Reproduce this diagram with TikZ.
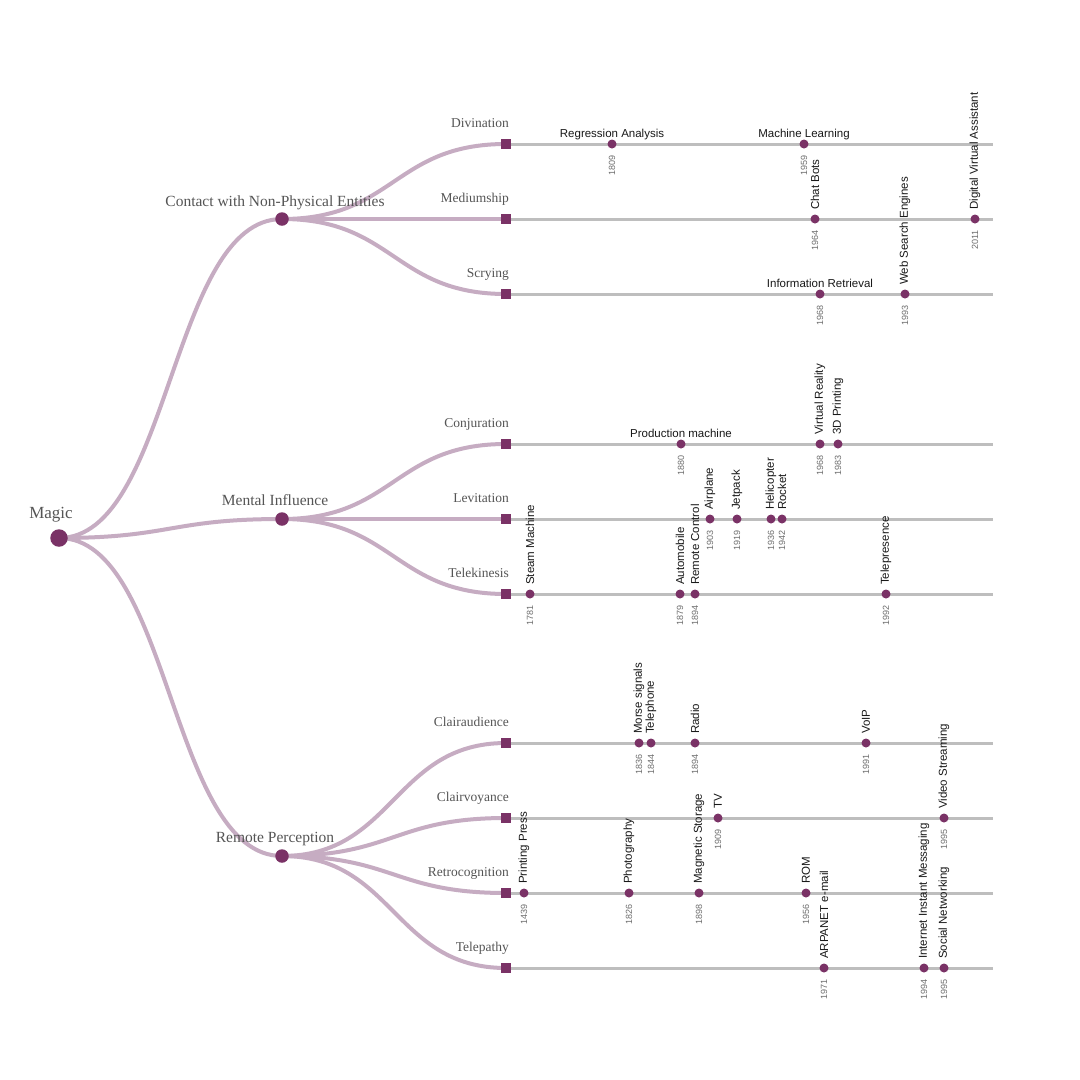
\documentclass[tikz,border=0pt]{standalone}
\usepackage{fontspec}
\setmainfont{Liberation Serif}
\newfontfamily\arialf{Liberation Sans}
\usetikzlibrary{calc}
\pgfdeclarelayer{bg}
\pgfsetlayers{bg,main}
\definecolor{purp}{RGB}{122,50,102}
\definecolor{linkc}{RGB}{198,172,194}
\definecolor{tlc}{RGB}{190,190,190}
\definecolor{treetext}{RGB}{85,85,85}
\definecolor{evtext}{RGB}{25,25,25}
\definecolor{yeartext}{RGB}{110,110,110}
\tikzset{
  rootdot/.style={circle,fill=purp,inner sep=0,minimum size=17.5pt},
  l1dot/.style={circle,fill=purp,inner sep=0,minimum size=13.5pt},
  sq/.style={rectangle,fill=purp,inner sep=0,minimum size=10pt},
  evdot/.style={circle,fill=purp,inner sep=0,minimum size=9pt},
  link/.style={draw=linkc,line width=4pt},
  tline/.style={draw=tlc,line width=3pt},
  hlink/.style={to path={let \p1=(\tikztostart), \p2=(\tikztotarget), \n1={0.5*\x1+0.5*\x2} in .. controls (\n1,\y1) and (\n1,\y2) .. (\tikztotarget)}},
  rootlab/.style={anchor=base,inner sep=0,text=treetext,font=\fontsize{17}{20}\selectfont},
  l1lab/.style={anchor=base,inner sep=0,text=treetext,font=\fontsize{15.5}{18}\selectfont},
  l2lab/.style={anchor=base east,inner sep=0,text=treetext,font=\fontsize{13.5}{16}\selectfont},
  hlab/.style={anchor=base,inner sep=0,text=evtext,font=\arialf\fontsize{11.5}{13}\selectfont},
  vlab/.style={rotate=90,anchor=west,inner sep=0,text=evtext,font=\arialf\fontsize{11.5}{13}\selectfont},
  ylab/.style={rotate=90,anchor=east,inner sep=0,text=yeartext,font=\arialf\fontsize{9}{10}\selectfont},
}
\newcommand\EvV[5]{%
  \node[evdot] (#1) at (#2,#3) {};
  \node[vlab] (#1l) at ([yshift=9pt]#1.center) {#4};
  \node[ylab] (#1y) at ([yshift=-11pt]#1.center) {#5};}
\newcommand\EvH[5]{%
  \node[evdot] (#1) at (#2,#3) {};
  \node[hlab] (#1l) at ([yshift=7pt]#1.center) {#4};
  \node[ylab] (#1y) at ([yshift=-11pt]#1.center) {#5};}
\begin{document}
\begin{tikzpicture}[x=1pt,y=-1pt]
\begin{pgfonlayer}{bg}
\path[use as bounding box,fill=white] (0,0) rectangle (1080,1080);
\end{pgfonlayer}
% tree nodes
\node[rootdot] (magic) at (59,538) {};
\node[rootlab] (magicl) at (51,518) {Magic};
\node[l1dot] (contact) at (282,219) {};
\node[l1lab] (contactl) at (275,206) {Contact with Non-Physical Entities};
\node[l1dot] (mental) at (282,519) {};
\node[l1lab] (mentall) at (275,505) {Mental Influence};
\node[l1dot] (remote) at (282,856) {};
\node[l1lab] (remotel) at (275,842) {Remote Perception};
% level 2
\foreach \nm/\yy/\txt in {div/144/Divination,med/219/Mediumship,scr/294/Scrying,
  con/444/Conjuration,lev/519/Levitation,tel/594/Telekinesis,
  cla/743/Clairaudience,clv/818/Clairvoyance,ret/893/Retrocognition,tpa/968/Telepathy}{
  \node[sq] (\nm) at (506,\yy) {};
  \node[l2lab] (\nm l) at (509,\yy-17) {\txt};
  \coordinate (\nm end) at (993,\yy);
}
\begin{pgfonlayer}{bg}
\foreach \a/\b in {magic/contact,magic/mental,magic/remote,
  contact/div,contact/med,contact/scr,mental/con,mental/lev,mental/tel,
  remote/cla,remote/clv,remote/ret,remote/tpa}{
  \draw[link] (\a.center) to[hlink] (\b.center);
}
\foreach \nm in {div,med,scr,con,lev,tel,cla,clv,ret,tpa}{
  \draw[tline] (\nm.center) -- (\nm end);
}
\end{pgfonlayer}
% events
\EvH{regr}{612}{144}{Regression Analysis}{1809}
\EvH{ml}{804}{144}{Machine Learning}{1959}
\EvV{chat}{815}{219}{Chat Bots}{1964}
\EvV{dva}{975}{219}{Digital Virtual Assistant}{2011}
\EvH{ir}{820}{294}{Information Retrieval}{1968}
\EvV{wse}{905}{294}{Web Search Engines}{1993}
\EvH{prod}{681}{444}{Production machine}{1880}
\EvV{vr}{820}{444}{Virtual Reality}{1968}
\EvV{tdp}{838}{444}{3D Printing}{1983}
\EvV{air}{710}{519}{Airplane}{1903}
\EvV{jet}{737}{519}{Jetpack}{1919}
\EvV{heli}{771}{519}{Helicopter}{1936}
\EvV{rock}{782}{519}{Rocket}{1942}
\EvV{steam}{530}{594}{Steam Machine}{1781}
\EvV{auto}{680}{594}{Automobile}{1879}
\EvV{rc}{695}{594}{Remote Control}{1894}
\EvV{telp}{886}{594}{Telepresence}{1992}
\EvV{morse}{639}{743}{Morse signals}{1836}
\EvV{phone}{651}{743}{Telephone}{1844}
\EvV{radio}{695}{743}{Radio}{1894}
\EvV{voip}{866}{743}{VoIP}{1991}
\EvV{tv}{718}{818}{TV}{1909}
\EvV{vs}{944}{818}{Video Streaming}{1995}
\EvV{pp}{524}{893}{Printing Press}{1439}
\EvV{photo}{629}{893}{Photography}{1826}
\EvV{mag}{699}{893}{Magnetic Storage}{1898}
\EvV{rom}{806}{893}{ROM}{1956}
\EvV{arpa}{824}{968}{ARPANET e-mail}{1971}
\EvV{iim}{924}{968}{Internet Instant Messaging}{1994}
\EvV{sn}{944}{968}{Social Networking}{1995}
\end{tikzpicture}
\end{document}
